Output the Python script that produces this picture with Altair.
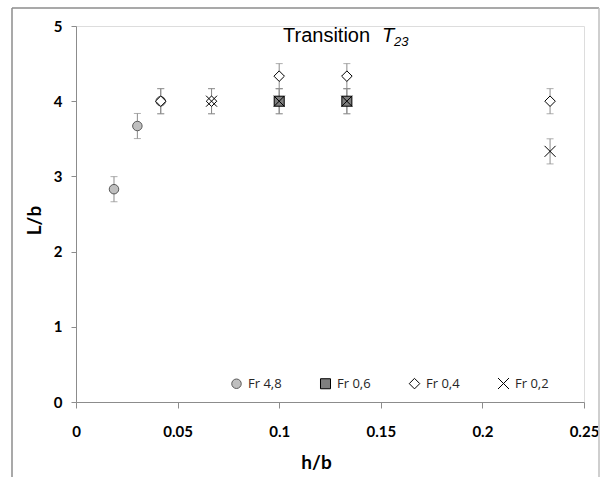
import altair as alt
import pandas as pd

# ---- data ----
series_names = ["Fr 4,8", "Fr 0,6", "Fr 0,4", "Fr 0,2"]
h_fr48 = [0.0187, 0.0302, 0.0417]
L_fr48 = [2.83, 3.67, 4.0]
h_fr06 = [0.1, 0.1333]
L_fr06 = [4.0, 4.0]
h_fr04 = [0.0417, 0.0667, 0.1, 0.1333, 0.2333]
L_fr04 = [4.0, 4.0, 4.333, 4.333, 4.0]
h_fr02 = [0.0667, 0.1, 0.1333, 0.2333]
L_fr02 = [4.0, 4.0, 4.0, 3.333]
err = 0.167

rows = []
for name, hs, ls in zip(series_names, [h_fr48, h_fr06, h_fr04, h_fr02], [L_fr48, L_fr06, L_fr04, L_fr02]):
    for h, l in zip(hs, ls):
        rows.append({"series": name, "h": h, "L": l, "lo": l - err, "hi": l + err})
df = pd.DataFrame(rows)
one = pd.DataFrame({"k": [0]})

W, H = 508, 376
xs = alt.Scale(domain=[0, 0.25], nice=False)
ys = alt.Scale(domain=[0, 5], nice=False)

X_PATH = "M-1,-1L1,1M-1,1L1,-1"

base = alt.Chart(df)

err_rule = base.mark_rule(color="#8c8c8c", strokeWidth=1).encode(
    x=alt.X("h:Q", scale=xs, axis=alt.Axis(
        values=[0, 0.05, 0.1, 0.15, 0.2, 0.25], format="~g", title="h/b",
        grid=False, domainColor="#8c8c8c", tickColor="#8c8c8c", tickSize=6,
        labelFont="Lato", labelFontSize=15, labelFontWeight="bold", labelColor="black",
        labelPadding=16, labelFlush=False,
        titleFont="Lato", titleFontSize=19, titleFontWeight="bold", titleColor="black",
        titleX=240, titleY=66, titleAlign="center", titleBaseline="alphabetic")),
    y=alt.Y("lo:Q", scale=ys, axis=alt.Axis(
        values=[0, 1, 2, 3, 4, 5], format="d", title="L/b",
        grid=False, domainColor="#8c8c8c", tickColor="#8c8c8c", tickSize=5,
        labelFont="Lato", labelFontSize=15, labelFontWeight="bold", labelColor="black",
        labelPadding=9,
        titleFont="Lato", titleFontSize=19, titleFontWeight="bold", titleColor="black",
        titleX=-36, titleY=194, titleAlign="center", titleBaseline="alphabetic")),
    y2="hi:Q",
)
cap_lo = base.mark_tick(orient="horizontal", color="#8c8c8c", size=7, thickness=1).encode(
    x=alt.X("h:Q", scale=xs), y=alt.Y("lo:Q", scale=ys))
cap_hi = base.mark_tick(orient="horizontal", color="#8c8c8c", size=7, thickness=1).encode(
    x=alt.X("h:Q", scale=xs), y=alt.Y("hi:Q", scale=ys))

legend = alt.Legend(title=None, orient="none", legendX=154, legendY=351,
                    direction="horizontal", columns=4,
                    labelFont="Open Sans", labelFontSize=13, labelColor="#262626",
                    labelOffset=5, columnPadding=36, symbolStrokeWidth=1)

points = base.mark_point(filled=False, strokeWidth=1, opacity=1).encode(
    x=alt.X("h:Q", scale=xs),
    y=alt.Y("L:Q", scale=ys),
    shape=alt.Shape("series:N", scale=alt.Scale(domain=series_names,
                    range=["circle", "square", "diamond", X_PATH]), legend=legend),
    fill=alt.Fill("series:N", scale=alt.Scale(domain=series_names,
                  range=["#bfbfbf", "#7f7f7f", "white", "transparent"]), legend=legend),
    stroke=alt.Stroke("series:N", scale=alt.Scale(domain=series_names,
                      range=["#595959", "black", "black", "black"]), legend=legend),
    size=alt.Size("series:N", scale=alt.Scale(domain=series_names,
                  range=[90, 121, 90, 170]), legend=legend),
)

# title pieces
t1 = alt.Chart(one).mark_text(text="Transition", font="Liberation Sans", fontSize=20,
                              fontWeight="normal", align="left", baseline="alphabetic",
                              color="black").encode(x=alt.value(207), y=alt.value(16))
t2 = alt.Chart(one).mark_text(text="T", font="Liberation Sans", fontSize=20, fontStyle="italic",
                              fontWeight="normal", align="left", baseline="alphabetic",
                              color="black").encode(x=alt.value(306), y=alt.value(16))
t3 = alt.Chart(one).mark_text(text="23", font="Liberation Sans", fontSize=13, fontStyle="italic",
                              fontWeight="normal", align="left", baseline="alphabetic",
                              color="black").encode(x=alt.value(318), y=alt.value(20))

# outer frame
frame_l = alt.Chart(one).mark_rule(color="#8c8c8c", strokeWidth=1.5).encode(
    x=alt.value(-64), y=alt.value(-18), y2=alt.value(460))
frame_t = alt.Chart(one).mark_rule(color="#8c8c8c", strokeWidth=1.5).encode(
    x=alt.value(-64), x2=alt.value(523), y=alt.value(-18))
frame_r = alt.Chart(one).mark_rule(color="#bfbfbf", strokeWidth=1.5).encode(
    x=alt.value(523), y=alt.value(-18), y2=alt.value(460))

chart = alt.layer(frame_l, frame_t, frame_r, err_rule, cap_lo, cap_hi, points, t1, t2, t3).properties(
    width=W, height=H,
    padding={"left": 76, "top": 26, "right": 19, "bottom": 75},
    autosize=alt.AutoSizeParams(type="none"),
).configure_view(stroke=None).configure(background="white")

chart.save("out.html", embed_options={"renderer": "svg", "actions": False})
